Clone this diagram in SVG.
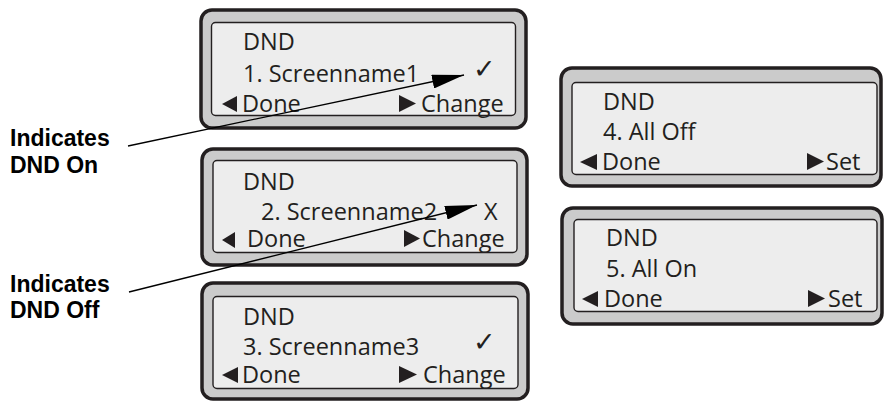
<svg xmlns="http://www.w3.org/2000/svg" width="884" height="402" viewBox="0 0 884 402">
<style>
.outer{fill:#cbcbcb;stroke:#231f20;stroke-width:3.5}
.inner{fill:#ededed;stroke:#231f20;stroke-width:1.4}
.t{font-family:"Open Sans","Noto Sans",sans-serif;font-size:23.5px;fill:#231f20}
.ck{font-family:"DejaVu Sans",sans-serif;font-size:27px;fill:#231f20}
.lbl{font-family:"Liberation Sans",Arial,sans-serif;font-weight:bold;font-size:23px;fill:#000}
.tri{fill:#231f20}
.conn{stroke:#000;stroke-width:1.3;fill:none}
</style>
<defs>
<marker id="ah" markerWidth="32" markerHeight="14" refX="32" refY="7" orient="auto" markerUnits="userSpaceOnUse">
<polygon points="0,0 32,7 0,14" fill="#000"/>
</marker>
</defs>

<g id="panel1">
<rect class="outer" x="201" y="10" width="325" height="118" rx="11"/>
<rect class="inner" x="211.5" y="22.5" width="304" height="93" rx="4"/>
<text class="t" x="243" y="50">DND</text>
<text class="t" x="243" y="82">1. Screenname1</text>
<text class="ck" x="473" y="78">✓</text>
<polygon class="tri" points="222,104 237,96 237,112"/>
<text class="t" x="242" y="112">Done</text>
<polygon class="tri" points="399,95 416,103.5 399,112"/>
<text class="t" x="421" y="112">Change</text>
</g>

<g id="panel2">
<rect class="outer" x="202" y="149" width="325" height="116" rx="11"/>
<rect class="inner" x="213" y="160.5" width="304" height="92" rx="4"/>
<text class="t" x="243" y="190">DND</text>
<text class="t" x="261" y="220">2. Screenname2</text>
<text class="t" x="484" y="220">X</text>
<polygon class="tri" points="222,240 235,232 235,248"/>
<text class="t" x="247" y="247">Done</text>
<polygon class="tri" points="404,230 420,238.5 404,247"/>
<text class="t" x="422" y="247">Change</text>
</g>

<g id="panel3">
<rect class="outer" x="202" y="283" width="326" height="116" rx="11"/>
<rect class="inner" x="213" y="296.5" width="305" height="92" rx="4"/>
<text class="t" x="243" y="325">DND</text>
<text class="t" x="243" y="355">3. Screenname3</text>
<text class="ck" x="473" y="351">✓</text>
<polygon class="tri" points="222,375 238,367 238,383"/>
<text class="t" x="242" y="383">Done</text>
<polygon class="tri" points="399,366 417,374.5 399,383"/>
<text class="t" x="423" y="383">Change</text>
</g>

<g id="panel4">
<rect class="outer" x="561" y="68" width="320" height="118" rx="11"/>
<rect class="inner" x="572" y="82.5" width="305" height="92" rx="4"/>
<text class="t" x="603" y="110">DND</text>
<text class="t" x="603" y="140">4. All Off</text>
<polygon class="tri" points="580,162 597,154 597,170"/>
<text class="t" x="602" y="170">Done</text>
<polygon class="tri" points="807,153 824,161.5 807,170"/>
<text class="t" x="826" y="170">Set</text>
</g>

<g id="panel5">
<rect class="outer" x="562" y="208" width="320" height="116" rx="11"/>
<rect class="inner" x="574" y="219.5" width="303" height="92" rx="4"/>
<text class="t" x="606" y="246">DND</text>
<text class="t" x="606" y="277">5. All On</text>
<polygon class="tri" points="582,299 598,291 598,307"/>
<text class="t" x="604" y="307">Done</text>
<polygon class="tri" points="808,290 825,298.5 808,307"/>
<text class="t" x="828" y="307">Set</text>
</g>

<g id="label-on">
<text class="lbl" x="10" y="146">Indicates</text>
<text class="lbl" x="10" y="173">DND On</text>
</g>
<g id="label-off">
<text class="lbl" x="10" y="292">Indicates</text>
<text class="lbl" x="10" y="318">DND Off</text>
</g>

<g id="connectors">
<line class="conn" x1="128" y1="146" x2="464" y2="75" marker-end="url(#ah)"/>
<line class="conn" x1="129" y1="292" x2="477" y2="205" marker-end="url(#ah)"/>
</g>
</svg>
